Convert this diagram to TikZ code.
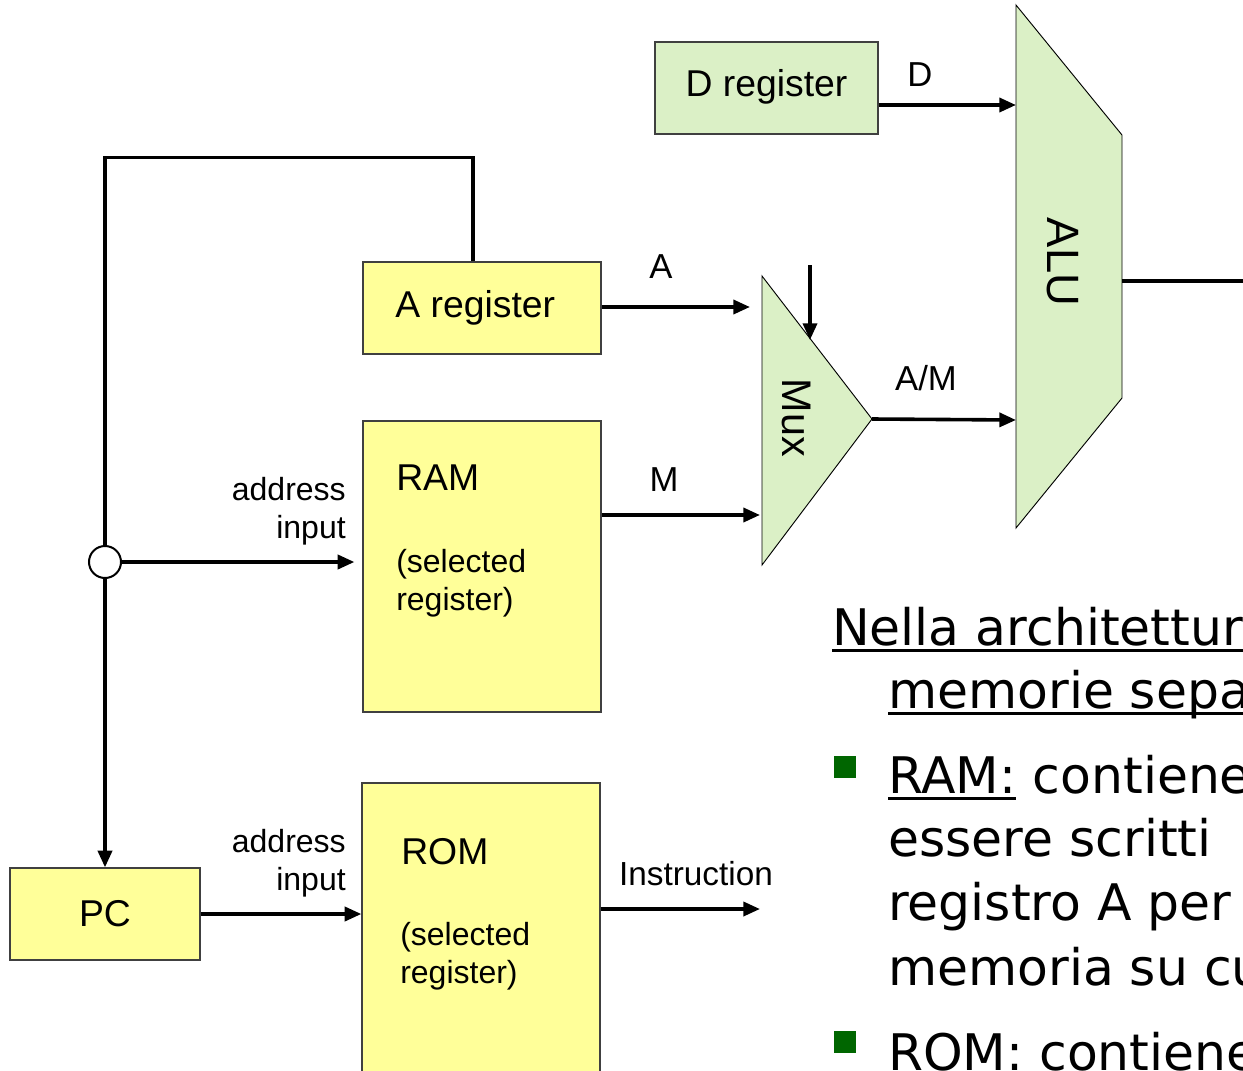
\documentclass[tikz,border=0pt]{standalone}
\usepackage{fontspec}
\setmainfont{Liberation Sans}
\newfontfamily\slidefont{DejaVu Sans}
\usepackage{xcolor}
\usepackage{tikz}
\usetikzlibrary{arrows.meta,positioning,calc}

\definecolor{regyellow}{HTML}{FFFF99}
\definecolor{alugreen}{HTML}{DBF0C6}
\definecolor{bulletgreen}{HTML}{006600}

\begin{document}
\begin{tikzpicture}[
    x=0.75pt, y=-0.75pt,
    >={Triangle[length=12.5pt,width=10.5pt]},
    wire/.style={line width=2.7pt},
    regbox/.style={draw=black!75, line width=0.9pt, fill=regyellow, rectangle, minimum width=178.5pt, minimum height=69pt, inner sep=0pt, font=\fontsize{28}{33}\selectfont},
    membox/.style={regbox, minimum height=218.25pt},
    unitshape/.style={draw, line width=0.7pt, fill=alugreen},
    boxname/.style={inner sep=0pt, font=\fontsize{28}{33}\selectfont},
    sublabel/.style={inner sep=0pt, align=left, font=\fontsize{24}{28.5}\selectfont},
    portlabel/.style={inner sep=0pt, align=right, font=\fontsize{24}{28.5}\selectfont},
    wirelabel/.style={inner sep=0pt, font=\fontsize{26}{30}\selectfont},
    slidetext/.style={inner sep=0pt, anchor=base west, font=\slidefont\fontsize{37.8}{45}\selectfont},
    uline/.style={line width=2.4pt},
    bulletsq/.style={rectangle, fill=bulletgreen, minimum size=16.5pt, inner sep=0pt}
]
    \useasboundingbox (0,0) rectangle (1243,1071);

    % registers and memories
    \node[regbox, fill=alugreen, minimum width=167.25pt, text depth=8pt] (dreg) at (766.5,88) {D register};
    \node[regbox] (areg) at (482,308) {\hspace*{-10pt}A register};
    \node[membox] (ram) at (482,566.5) {};
    \node[membox, minimum height=240pt] (rom) at (481,943) {};
    \node[regbox, minimum width=142.5pt] (pc) at (105,914) {PC};

    \node[boxname, anchor=west] (ramname) at (396,478) {RAM};
    \node[sublabel, anchor=west] (ramsub) at (396,583) {(selected\\register)};
    \node[boxname, anchor=west] (romname) at (401,852) {ROM};
    \node[sublabel, anchor=west] (romsub) at (400,956) {(selected\\register)};

    \node[portlabel, anchor=east] (ramport) at (346,511) {address\\input};
    \node[portlabel, anchor=east] (romport) at (346,863) {address\\input};

    % mux and alu
    \draw[unitshape] (762,276) -- (872,419) -- (762,565) -- cycle;
    \node[rotate=-90, inner sep=0pt, font=\fontsize{31}{36}\selectfont] (muxlbl) at (797,418) {Mux};
    \draw[unitshape] (1016,5) -- (1122,135) -- (1122,398) -- (1016,528) -- cycle;
    \node[rotate=-90, inner sep=0pt, font=\fontsize{34}{40}\selectfont] (alulbl) at (1063,262) {ALU};

    \coordinate (muxa) at (762,307);
    \coordinate (muxm) at (762,515);
    \coordinate (muxout) at (872,419);
    \coordinate (muxsel) at (810,265);
    \coordinate (muxselend) at (810,340);
    \coordinate (alud) at (1016,105);
    \coordinate (aluam) at (1016,420);
    \coordinate (aluout) at (1122,281);
    \coordinate (aluend) at (1243,281);
    \coordinate (instr) at (760,909);

    % junction on the address bus
    \node[circle, draw, line width=1.5pt, fill=white, minimum size=24pt, inner sep=0pt] (jn) at (105,562) {};

    % wires
    \draw[wire] ([xshift=-6.75pt]areg.north) -- ++(0,-104) -| (jn.north);
    \draw[wire,->] (jn.south) -- (jn.south |- pc.north);
    \draw[wire,->,shorten >=6pt] (jn.east) -- (jn.east -| ram.west);
    \draw[wire,->] (pc.east) -- (pc.east -| rom.west);
    \draw[wire,->,shorten >=9pt] (areg.east |- muxa) -- (muxa);
    \draw[wire,->,shorten >=1.5pt] (muxm -| ram.east) -- (muxm);
    \draw[wire,->] (instr -| rom.east) -- (instr);
    \draw[wire,->] (alud -| dreg.east) -- (alud);
    \draw[wire,->] (muxout) -- (aluam);
    \draw[wire] (aluout) -- (aluend);
    \draw[wire,->] (muxsel) -- (muxselend);

    \node[wirelabel] (lbld) at (920,75) {D};
    \node[wirelabel] (lbla) at (661,267) {A};
    \node[wirelabel] (lblm) at (664,480) {M};
    \node[wirelabel] (lblam) at (926,378) {A/M};
    \node[portlabel, font=\fontsize{25}{30}\selectfont] (lblinstr) at (696,874) {Instruction};

    % slide text
    \node[slidetext] (l1) at (832,645) {Nella architettur};
    \draw[uline] ([yshift=-4pt]l1.base west) -- ([yshift=-4pt]l1.base east);
    \node[slidetext] (l2) at (888,708) {memorie separ};
    \draw[uline] ([yshift=-4pt]l2.base west) -- ([yshift=-4pt]l2.base east);
    \node[bulletsq] (b1) at (845,767) {};
    \node[slidetext] (l3a) at (888,793) {RAM:};
    \draw[uline] ([yshift=-4pt]l3a.base west) -- ([yshift=-4pt]l3a.base east);
    \node[slidetext] (l3b) at ([xshift=12pt]l3a.base east) {contiene};
    \node[slidetext] (l4) at (888,856) {essere scritti};
    \node[slidetext] (l5) at (888,920) {registro A per};
    \node[slidetext] (l6) at (888,985) {memoria su cui};
    \node[bulletsq] (b2) at (845,1042) {};
    \node[slidetext] (l7) at (888,1070) {ROM: contiene};
\end{tikzpicture}
\end{document}
